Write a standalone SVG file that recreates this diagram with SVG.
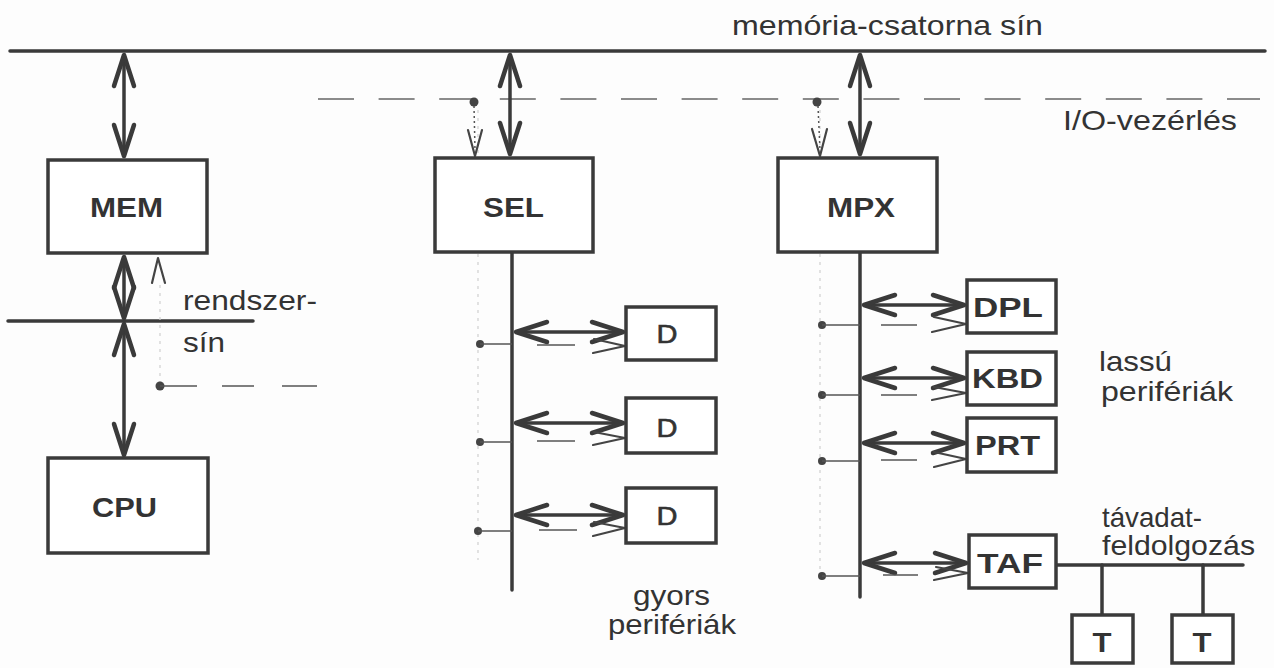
<svg xmlns="http://www.w3.org/2000/svg" width="1274" height="668" viewBox="0 0 1274 668">
<style>
.bus{stroke:#3a3a3a;stroke-width:3.5;fill:none;stroke-linecap:round}
.arr{stroke:#3a3a3a;stroke-width:3.5;fill:none;marker-start:url(#chev);marker-end:url(#chev)}
.thin{stroke:#555;stroke-width:1.5;fill:none}
.dash{stroke:#666;stroke-width:1.5;fill:none;stroke-dasharray:36 24.6}
.faint{stroke:#d0d0d0;stroke-width:1.2;fill:none;stroke-dasharray:3 5}
.v{stroke:#444;stroke-width:2.2;fill:none;stroke-linejoin:round;stroke-linecap:round}
.box{fill:#fff;stroke:#3a3a3a;stroke-width:3.5}
.lbl{font-family:"Liberation Sans",Arial,sans-serif;font-weight:bold;font-size:27px;fill:#333;text-anchor:middle}
.lblr{font-family:"Liberation Sans",Arial,sans-serif;font-size:26px;fill:#333;text-anchor:middle;stroke:#333;stroke-width:0.6}
.txt{font-family:"Liberation Sans",Arial,sans-serif;font-size:28px;fill:#333}
.dot{fill:#444}
</style>
<defs>
<marker id="chev" markerUnits="userSpaceOnUse" markerWidth="44" markerHeight="30" viewBox="-38 -15 44 30" refX="0" refY="0" orient="auto-start-reverse" overflow="visible">
<path d="M-32,-10 L-1,0 L-32,10" fill="none" stroke="#3a3a3a" stroke-width="4.5" stroke-linejoin="round" stroke-linecap="round"/>
</marker>
</defs>
<rect x="0" y="0" width="1274" height="668" fill="#fdfdfd"/>

<g id="connectors">
<line class="bus" x1="10" y1="51" x2="1265" y2="51"/>
<line class="dash" x1="318" y1="99" x2="1260" y2="99"/>
<line class="bus" x1="8" y1="321" x2="253" y2="321"/>
<line class="bus" x1="512" y1="252" x2="512" y2="590"/>
<line class="bus" x1="860" y1="252" x2="860" y2="597"/>
<line class="bus" x1="1056" y1="565" x2="1243" y2="565"/>
<line class="bus" x1="1102" y1="565" x2="1102" y2="615"/>
<line class="bus" x1="1203" y1="565" x2="1203" y2="615"/>
<line class="arr" x1="124" y1="54" x2="124" y2="157"/>
<line class="arr" x1="510" y1="54" x2="510" y2="155"/>
<line class="arr" x1="860" y1="54" x2="860" y2="155"/>
<line class="arr" x1="124" y1="256" x2="124" y2="319"/>
<line class="arr" x1="124" y1="323" x2="124" y2="456"/>
<line class="arr" x1="515" y1="332" x2="624" y2="332"/>
<line class="arr" x1="515" y1="423" x2="624" y2="423"/>
<line class="arr" x1="515" y1="515" x2="624" y2="515"/>
<line class="arr" x1="863" y1="305" x2="965" y2="305"/>
<line class="arr" x1="863" y1="378" x2="965" y2="378"/>
<line class="arr" x1="863" y1="443" x2="965" y2="443"/>
<line class="arr" x1="863" y1="563" x2="967" y2="563"/>
<line class="faint" x1="478" y1="110" x2="478" y2="560"/>
<line class="faint" x1="820" y1="110" x2="820" y2="580"/>
<line class="faint" x1="160" y1="285" x2="160" y2="382"/>
<circle class="dot" cx="474" cy="102" r="4.5"/>
<line class="thin" x1="474" y1="106" x2="475" y2="150" stroke-dasharray="2 3" stroke="#999"/>
<polyline class="v" points="468,130 475,156 482,130"/>
<circle class="dot" cx="817" cy="102" r="4.5"/>
<line class="thin" x1="818" y1="106" x2="820" y2="150" stroke-dasharray="2 3" stroke="#999"/>
<polyline class="v" points="812,129 820,156 827,129"/>
<polyline class="v" points="152,283 158,258 165,283"/>
<circle class="dot" cx="160" cy="386" r="4.5"/>
<line class="thin" x1="160" y1="386" x2="197" y2="386"/>
<line class="thin" x1="222" y1="386" x2="254" y2="386"/>
<line class="thin" x1="282" y1="386" x2="317" y2="386"/>
<circle class="dot" cx="480" cy="344" r="4"/>
<line class="thin" x1="480" y1="344" x2="512" y2="344"/>
<line class="thin" x1="537" y1="345" x2="575" y2="345"/>
<polyline class="v" points="594,339 625,346 593,353"/>
<circle class="dot" cx="480" cy="442" r="4"/>
<line class="thin" x1="480" y1="442" x2="512" y2="442"/>
<line class="thin" x1="537" y1="441" x2="575" y2="441"/>
<polyline class="v" points="594,432 625,438 593,445"/>
<circle class="dot" cx="478" cy="531" r="4"/>
<line class="thin" x1="478" y1="531" x2="512" y2="531"/>
<line class="thin" x1="539" y1="530" x2="577" y2="530"/>
<polyline class="v" points="594,522 625,528 593,536"/>
<circle class="dot" cx="822" cy="325" r="4"/>
<line class="thin" x1="822" y1="325" x2="860" y2="325"/>
<line class="thin" x1="881" y1="325" x2="917" y2="325"/>
<polyline class="v" points="934,317 966,324 932,332"/>
<circle class="dot" cx="822" cy="395" r="4"/>
<line class="thin" x1="822" y1="395" x2="860" y2="395"/>
<line class="thin" x1="881" y1="395" x2="917" y2="395"/>
<polyline class="v" points="934,387 966,393 932,400"/>
<circle class="dot" cx="822" cy="461" r="4"/>
<line class="thin" x1="822" y1="461" x2="860" y2="461"/>
<line class="thin" x1="881" y1="460" x2="917" y2="460"/>
<polyline class="v" points="934,452 966,459 934,467"/>
<circle class="dot" cx="822" cy="576" r="4"/>
<line class="thin" x1="822" y1="576" x2="860" y2="576"/>
<line class="thin" x1="883" y1="575" x2="918" y2="575"/>
<polyline class="v" points="936,567 968,573 934,580"/>
</g>

<g id="MEM"><rect class="box" x="48" y="160" width="159" height="93"/><text class="lbl" x="126.5" y="217" textLength="73" lengthAdjust="spacingAndGlyphs">MEM</text></g>
<g id="SEL"><rect class="box" x="435" y="158" width="158" height="94"/><text class="lbl" x="513.5" y="217" textLength="61" lengthAdjust="spacingAndGlyphs">SEL</text></g>
<g id="MPX"><rect class="box" x="778" y="158" width="159" height="94"/><text class="lbl" x="861" y="217" textLength="68" lengthAdjust="spacingAndGlyphs">MPX</text></g>
<g id="CPU"><rect class="box" x="48" y="458" width="160" height="95"/><text class="lbl" x="124.5" y="517" textLength="65" lengthAdjust="spacingAndGlyphs">CPU</text></g>
<g id="D1"><rect class="box" x="626" y="307" width="90" height="53"/><text class="lblr" x="667" y="343" textLength="21" lengthAdjust="spacingAndGlyphs">D</text></g>
<g id="D2"><rect class="box" x="626" y="398" width="90" height="55"/><text class="lblr" x="667" y="437" textLength="21" lengthAdjust="spacingAndGlyphs">D</text></g>
<g id="D3"><rect class="box" x="626" y="488" width="90" height="55"/><text class="lblr" x="667" y="525" textLength="21" lengthAdjust="spacingAndGlyphs">D</text></g>
<g id="DPL"><rect class="box" x="967" y="280" width="89" height="53"/><text class="lbl" x="1008" y="317" textLength="70" lengthAdjust="spacingAndGlyphs">DPL</text></g>
<g id="KBD"><rect class="box" x="967" y="352" width="89" height="53"/><text class="lbl" x="1007.5" y="388" textLength="71" lengthAdjust="spacingAndGlyphs">KBD</text></g>
<g id="PRT"><rect class="box" x="967" y="418" width="89" height="54"/><text class="lbl" x="1007.5" y="455" textLength="65" lengthAdjust="spacingAndGlyphs">PRT</text></g>
<g id="TAF"><rect class="box" x="969" y="535" width="87" height="53"/><text class="lbl" x="1010" y="573" textLength="66" lengthAdjust="spacingAndGlyphs">TAF</text></g>
<g id="T1"><rect class="box" x="1072" y="615" width="61" height="48"/><text class="lbl" x="1102" y="652" textLength="19" lengthAdjust="spacingAndGlyphs">T</text></g>
<g id="T2"><rect class="box" x="1172" y="615" width="61" height="48"/><text class="lbl" x="1202" y="652" textLength="19" lengthAdjust="spacingAndGlyphs">T</text></g>

<g id="labels">
<text class="txt" x="732" y="35" textLength="311" lengthAdjust="spacingAndGlyphs">memória-csatorna sín</text>
<text class="txt" x="1063" y="130" font-size="27" textLength="174" lengthAdjust="spacingAndGlyphs">I/O-vezérlés</text>
<text class="txt" x="183" y="310" textLength="134" lengthAdjust="spacingAndGlyphs">rendszer-</text>
<text class="txt" x="183" y="352" textLength="42" lengthAdjust="spacingAndGlyphs">sín</text>
<text class="txt" x="1099" y="371" font-size="25" textLength="73" lengthAdjust="spacingAndGlyphs">lassú</text>
<text class="txt" x="1101" y="401" font-size="25" textLength="132" lengthAdjust="spacingAndGlyphs">perifériák</text>
<text class="txt" x="633" y="605" font-size="30" textLength="77" lengthAdjust="spacingAndGlyphs">gyors</text>
<text class="txt" x="608" y="634" textLength="128" lengthAdjust="spacingAndGlyphs">perifériák</text>
<text class="txt" x="1102" y="527" font-size="22" textLength="100" lengthAdjust="spacingAndGlyphs">távadat-</text>
<text class="txt" x="1102" y="555" font-size="22" textLength="153" lengthAdjust="spacingAndGlyphs">feldolgozás</text>
</g>
</svg>
